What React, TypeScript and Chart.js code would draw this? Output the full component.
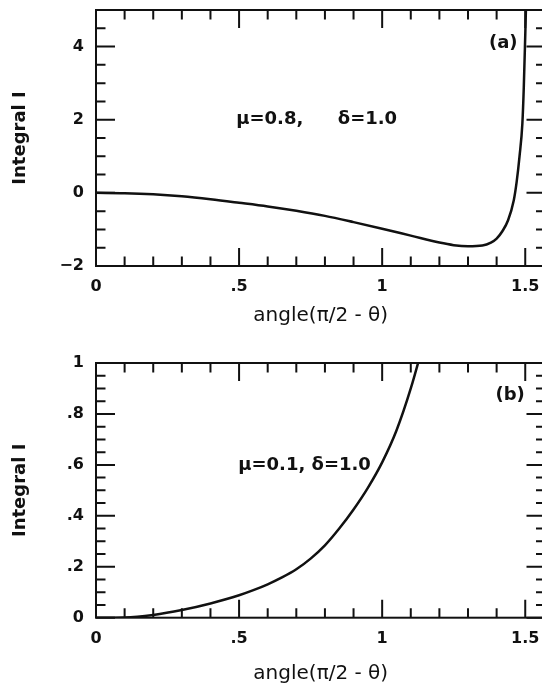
import React, { useEffect, useRef } from "react";
import { Chart, registerables } from "chart.js";

Chart.register(...registerables);

// ---------- shared x axis ----------
const X_MAX = Math.PI / 2;
const X_MAJOR = [0, 0.5, 1, 1.5];
const X_LABELS = ["0", ".5", "1", "1.5"];
const X_MINOR = [0.1, 0.2, 0.3, 0.4, 0.6, 0.7, 0.8, 0.9, 1.1, 1.2, 1.3, 1.4];
const X_TITLE = "angle(\u03c0/2 - \u03b8)";
const Y_TITLE = "Integral I";

// ---------- panel (a) ----------
const A_X = [0, 0.1, 0.2, 0.3, 0.4, 0.5, 0.6, 0.7, 0.8, 0.9, 1.0, 1.1, 1.2, 1.25, 1.3, 1.35, 1.38, 1.4, 1.42, 1.44, 1.46, 1.47, 1.48, 1.49, 1.495, 1.5, 1.505];
const A_Y = [0, -0.01, -0.04, -0.095, -0.175, -0.27, -0.37, -0.49, -0.63, -0.8, -0.98, -1.17, -1.36, -1.43, -1.46, -1.44, -1.36, -1.25, -1.05, -0.75, -0.2, 0.3, 1.0, 1.9, 2.9, 4.3, 5.8];
const A_Y_MIN = -2;
const A_Y_MAX = 5;
const A_Y_MAJOR = [-2, 0, 2, 4];
const A_Y_LABELS = ["\u22122", "0", "2", "4"];
const A_Y_MINOR = [-1.5, -1, -0.5, 0.5, 1, 1.5, 2.5, 3, 3.5, 4.5];
const A_NOTES = [
  { text: "\u03bc=0.8,", x: 0.49, y: 2, align: "left" },
  { text: "\u03b4=1.0", x: 0.845, y: 2, align: "left" },
  { text: "(a)", x: 1.423, y: 4.1, align: "center" },
];

// ---------- panel (b) ----------
const B_X = [0, 0.1, 0.2, 0.3, 0.4, 0.5, 0.55, 0.6, 0.65, 0.7, 0.75, 0.8, 0.85, 0.9, 0.95, 1.0, 1.05, 1.1, 1.15];
const B_Y = [0, 0.001, 0.011, 0.03, 0.056, 0.088, 0.108, 0.131, 0.158, 0.19, 0.232, 0.284, 0.35, 0.425, 0.51, 0.61, 0.735, 0.9, 1.1];
const B_Y_MIN = 0;
const B_Y_MAX = 1;
const B_Y_MAJOR = [0, 0.2, 0.4, 0.6, 0.8, 1];
const B_Y_LABELS = ["0", ".2", ".4", ".6", ".8", "1"];
const B_Y_MINOR = [0.05, 0.1, 0.15, 0.25, 0.3, 0.35, 0.45, 0.5, 0.55, 0.65, 0.7, 0.75, 0.85, 0.9, 0.95];
const B_NOTES = [
  { text: "\u03bc=0.1, \u03b4=1.0", x: 0.497, y: 0.6, align: "left" },
  { text: "(b)", x: 1.447, y: 0.872, align: "center" },
];

const INK = "#111";
const FAMILY = '"DejaVu Sans", "Liberation Sans", sans-serif';

type PanelSpec = {
  xs: number[];
  ys: number[];
  yMin: number;
  yMax: number;
  yMajor: number[];
  yLabels: string[];
  yMinor: number[];
  notes: { text: string; x: number; y: number; align: string }[];
  width: number;
  height: number;
  areaLeft: number;
  areaRight: number;
  areaTop: number;
  areaBottom: number;
  tickPad: number;
  xTitlePad: number;
};

function makeFramePlugin(p: PanelSpec) {
  return {
    id: "frameTicks",
    afterDatasetsDraw(chart: any) {
      const { ctx, chartArea } = chart;
      const { left, right, top, bottom } = chartArea;
      const xs = chart.scales.x;
      const ys = chart.scales.y;
      ctx.save();
      ctx.strokeStyle = INK;
      ctx.lineWidth = 2;
      ctx.lineCap = "butt";
      ctx.strokeRect(left, top, right - left, bottom - top);
      const MAJ = 18;
      const MIN = 9.5;
      ctx.beginPath();
      const xTick = (v: number, len: number) => {
        const px = xs.getPixelForValue(v);
        ctx.moveTo(px, bottom);
        ctx.lineTo(px, bottom - len);
        ctx.moveTo(px, top);
        ctx.lineTo(px, top + len);
      };
      const yTick = (v: number, len: number) => {
        const py = ys.getPixelForValue(v);
        ctx.moveTo(left, py);
        ctx.lineTo(left + len, py);
        ctx.moveTo(right, py);
        ctx.lineTo(right - len, py);
      };
      X_MAJOR.forEach((v) => xTick(v, MAJ));
      X_MINOR.forEach((v) => xTick(v, MIN));
      p.yMajor.forEach((v) => yTick(v, MAJ + 1));
      p.yMinor.forEach((v) => yTick(v, MIN));
      ctx.stroke();

      ctx.fillStyle = INK;
      ctx.font = `bold 18px ${FAMILY}`;
      ctx.textBaseline = "middle";
      p.notes.forEach((n) => {
        ctx.textAlign = n.align as CanvasTextAlign;
        ctx.fillText(n.text, xs.getPixelForValue(n.x), ys.getPixelForValue(n.y));
      });
      ctx.restore();
    },
  };
}

function makeConfig(p: PanelSpec): any {
  const data = p.xs.map((x, i) => ({ x, y: p.ys[i] }));
  return {
    type: "line",
    data: {
      datasets: [
        {
          data,
          borderColor: INK,
          borderWidth: 2.5,
          pointRadius: 0,
          fill: false,
          cubicInterpolationMode: "monotone",
        },
      ],
    },
    options: {
      animation: false,
      responsive: false,
      devicePixelRatio: 1,
      layout: {
        padding: { left: 0, top: p.areaTop, right: p.width - p.areaRight, bottom: 0 },
      },
      plugins: { legend: { display: false }, tooltip: { enabled: false } },
      scales: {
        x: {
          type: "linear",
          min: 0,
          max: X_MAX,
          grid: { display: false, drawTicks: false },
          border: { display: false },
          afterBuildTicks: (s: any) => {
            s.ticks = X_MAJOR.map((v) => ({ value: v }));
          },
          afterFit: (s: any) => {
            s.height = p.height - p.areaBottom;
            s.paddingLeft = 0;
            s.paddingRight = 0;
          },
          ticks: {
            color: INK,
            padding: p.tickPad,
            maxRotation: 0,
            autoSkip: false,
            font: { family: FAMILY, size: 16, weight: "bold" },
            callback: (v: number) => X_LABELS[X_MAJOR.indexOf(v)] ?? "",
          },
          title: {
            display: true,
            text: X_TITLE,
            color: INK,
            font: { family: FAMILY, size: 20, weight: "normal" },
            padding: { top: 0, bottom: p.xTitlePad },
          },
        },
        y: {
          type: "linear",
          min: p.yMin,
          max: p.yMax,
          grid: { display: false, drawTicks: false },
          border: { display: false },
          afterBuildTicks: (s: any) => {
            s.ticks = p.yMajor.map((v) => ({ value: v }));
          },
          afterFit: (s: any) => {
            s.width = p.areaLeft;
            s.paddingTop = 0;
            s.paddingBottom = 0;
          },
          ticks: {
            color: INK,
            padding: 12,
            autoSkip: false,
            font: { family: FAMILY, size: 16, weight: "bold" },
            callback: (v: number) => p.yLabels[p.yMajor.indexOf(v)] ?? "",
          },
          title: {
            display: true,
            text: Y_TITLE,
            color: INK,
            font: { family: FAMILY, size: 18, weight: "bold" },
            padding: { top: 10, bottom: 0 },
          },
        },
      },
    },
    plugins: [makeFramePlugin(p)],
  };
}

function Panel({ spec, top }: { spec: PanelSpec; top: number }) {
  const ref = useRef<HTMLCanvasElement | null>(null);
  useEffect(() => {
    if (!ref.current) return;
    const chart = new Chart(ref.current, makeConfig(spec));
    return () => chart.destroy();
  }, [spec]);
  return (
    <canvas
      ref={ref}
      width={spec.width}
      height={spec.height}
      style={{ position: "absolute", left: 0, top, width: spec.width, height: spec.height }}
    />
  );
}

const SPEC_A: PanelSpec = {
  xs: A_X,
  ys: A_Y,
  yMin: A_Y_MIN,
  yMax: A_Y_MAX,
  yMajor: A_Y_MAJOR,
  yLabels: A_Y_LABELS,
  yMinor: A_Y_MINOR,
  notes: A_NOTES,
  width: 570,
  height: 345,
  areaLeft: 96,
  areaRight: 545.5,
  areaTop: 10,
  areaBottom: 266,
  tickPad: 11,
  xTitlePad: 17,
};

const SPEC_B: PanelSpec = {
  xs: B_X,
  ys: B_Y,
  yMin: B_Y_MIN,
  yMax: B_Y_MAX,
  yMajor: B_Y_MAJOR,
  yLabels: B_Y_LABELS,
  yMinor: B_Y_MINOR,
  notes: B_NOTES,
  width: 570,
  height: 345,
  areaLeft: 96,
  areaRight: 545.5,
  areaTop: 18,
  areaBottom: 272.7,
  tickPad: 11.5,
  xTitlePad: 4,
};

export default function App() {
  return (
    <div
      style={{
        position: "fixed",
        left: 0,
        top: 0,
        width: 542,
        height: 690,
        overflow: "hidden",
        background: "#fff",
      }}
    >
      <Panel spec={SPEC_A} top={0} />
      <Panel spec={SPEC_B} top={345} />
    </div>
  );
}
